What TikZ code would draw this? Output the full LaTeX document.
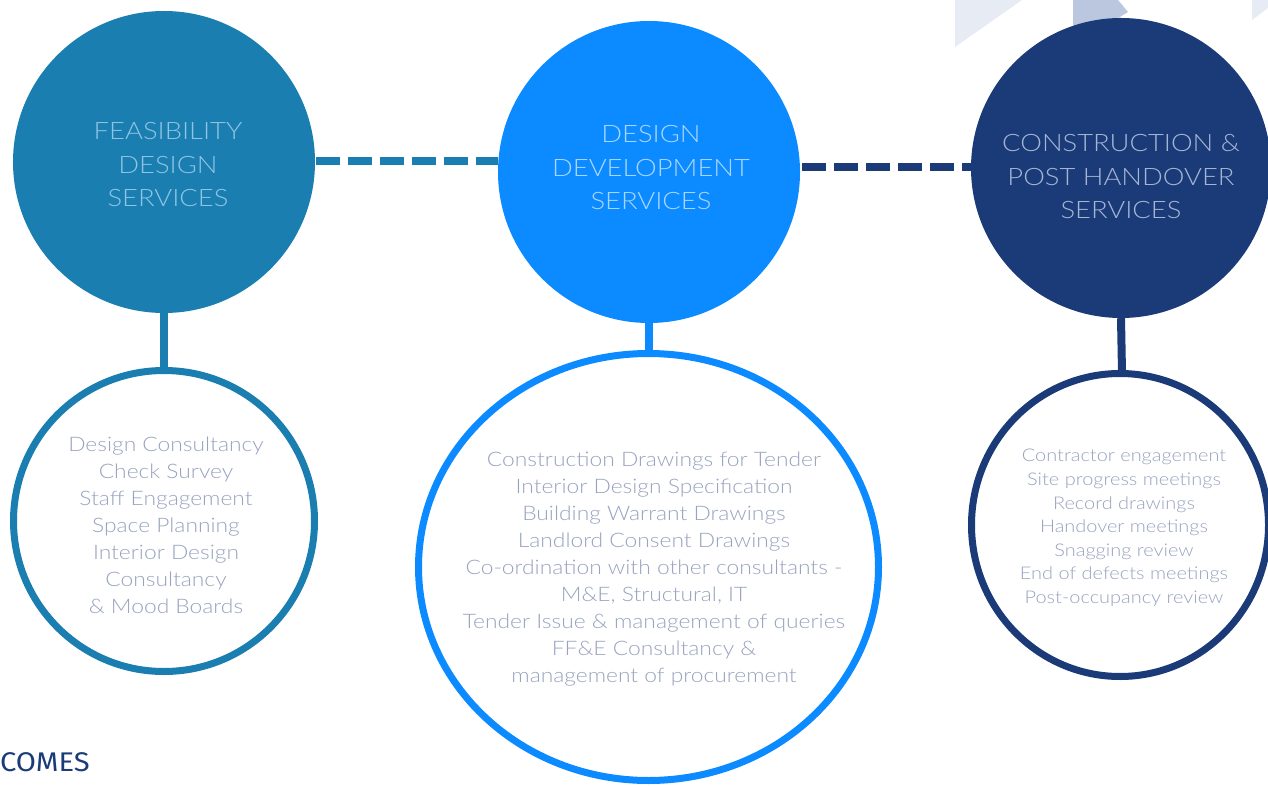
\documentclass[tikz,border=0pt]{standalone}
\usepackage{fontspec}
\setmainfont{Lato}[UprightFont={* Light}, FakeStretch=1.14]
\newfontfamily\headfont{Fira Sans}[FakeStretch=1.08]
\definecolor{cA}{HTML}{1B7EB1}
\definecolor{cB}{HTML}{0B8BFF}
\definecolor{cC}{HTML}{1A3B77}
\definecolor{tA}{HTML}{8EC4E4}
\definecolor{tB}{HTML}{A9D6FF}
\definecolor{tC}{HTML}{A5B5D6}
\definecolor{tx}{HTML}{98A3BF}
\definecolor{pale}{HTML}{E7EBF4}
\definecolor{paleB}{HTML}{BAC7DF}
\definecolor{paleC}{HTML}{DCE3EF}
\tikzset{
  topcirc/.style={circle, minimum size=302pt, inner sep=0pt, align=center, font=\fontsize{24}{33.5}\selectfont},
  toptext/.style={align=center, font=\fontsize{24}{33.5}\selectfont, inner sep=0pt},
  ring/.style={draw, line width=7pt, fill=white},
  lst/.style={align=center, text=tx},
  stem/.style={line width=8pt},
  dashconn/.style={line width=8pt, dash pattern=on 24pt off 8pt}
}
\begin{document}
\begin{tikzpicture}[x=1pt,y=-1pt]
\useasboundingbox (0,0) rectangle (1268,786);
\clip (0,0) rectangle (1268,786);
% background decorations
\fill[pale] (955,0) -- (1022,0) -- (955,47) -- cycle;
\fill[paleC] (1073,0) -- (1150,28) -- (1073,45) -- cycle;
\fill[paleB] (1073,0) -- (1118,0) -- (1128,12) -- (1073,45) -- cycle;
\fill[pale] (1252,0) -- (1268,0) -- (1268,8) -- (1252,20) -- cycle;
% top circles
\node[topcirc, fill=cA] (f) at (164,162) {};
\node[toptext, text=tA] (ft) at (168,165) {FEASIBILITY\\DESIGN\\SERVICES};
\node[topcirc, fill=cB] (d) at (649,172) {};
\node[toptext, text=tB] (dt) at (651,168) {DESIGN\\DEVELOPMENT\\SERVICES};
\node[topcirc, fill=cC, minimum size=300pt] (c) at (1121,168) {};
\node[toptext, text=tC] (ct) at (1121,177) {CONSTRUCTION \&\\POST HANDOVER\\SERVICES};
% bottom rings
\draw[ring, draw=cA] (164,521) circle [radius=150.5];
\coordinate (fb) at (164,370);
\draw[ring, draw=cB] (648.5,567) ellipse [x radius=230, y radius=213.5];
\coordinate (db) at (649,353);
\draw[ring, draw=cC] (1120,525) ellipse [x radius=148.5, y radius=151.5];
\coordinate (cb) at (1122,373);
% stems
\draw[stem, cA] (f.south) -- (fb);
\draw[stem, cB] (d.south) -- (db);
\draw[stem, cC] (c.south) -- (cb);
% dashed connectors
\draw[dashconn, cA] (f.east) ++(1,-1) coordinate (fe) -- (d.west |- fe);
\draw[dashconn, cC] (d.east) ++(2,-5) coordinate (de) -- (c.west |- de);
% lists
\node[lst, font=\fontsize{20}{27}\selectfont] (l1) at (166,525) {Design Consultancy\\Check Survey\\Staff Engagement\\Space Planning\\Interior Design\\Consultancy\\\& Mood Boards};
\node[lst, font=\fontsize{20}{27}\selectfont] (l2) at (654,569) {Construction Drawings for Tender\\Interior Design Specification\\Building Warrant Drawings\\Landlord Consent Drawings\\Co-ordination with other consultants -\\M\&E, Structural, IT\\Tender Issue \& management of queries\\FF\&E Consultancy \&\\management of procurement};
\node[lst, font=\fontsize{17.5}{23.6}\selectfont] (l3) at (1124,528) {Contractor engagement\\Site progress meetings\\Record drawings\\Handover meetings\\Snagging review\\End of defects meetings\\Post-occupancy review};
\node[anchor=base west, inner sep=0pt, text=cC, font=\headfont\fontsize{27}{30}\selectfont] (oc) at (0,771) {COMES};
\end{tikzpicture}
\end{document}
